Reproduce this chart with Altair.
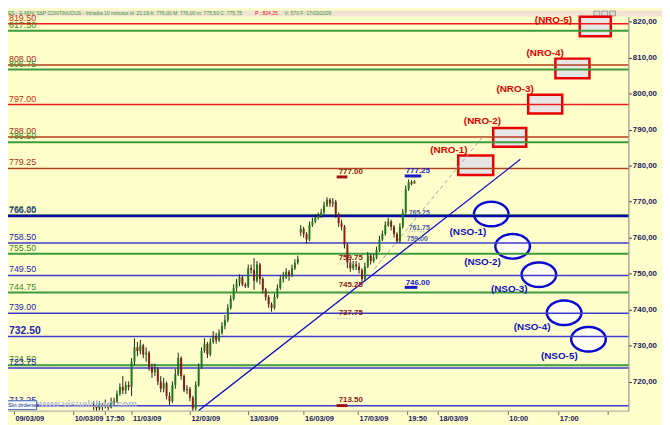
import math
import altair as alt
import pandas as pd

FONT = "Liberation Sans"
BG = "#ffffcc"

# ---------------- x axis (chart "days": 0 = 09/03/09 session start) ----------------
TICK_POS = [0.0, 1.017, 1.55, 2.017, 3.017, 4.017, 4.967, 5.9, 6.733, 7.267, 8.467, 9.333, 10.183]
TICK_LABELS = ["09/03/09", "10/03/09", "17:50", "11/03/09", "12/03/09", "13/03/09",
               "16/03/09", "17/03/09", "19:50", "18/03/09", "10:00", "17:00", ""]
Y_TICKS = [720, 730, 740, 750, 760, 770, 780, 790, 800, 810, 820]

# ---------------- 10-minute candles ----------------
BAR_START = 1.367
BAR_STEP = 0.05
OPENS = [713.5, 713.0, 712.5, 713.5, 713.0, 713.5, 712.8, 714.0, 714.5, 716.5,
         718.5, 717.5, 719.0, 718.5, 725.5, 729.5, 728.5, 730.0, 727.5, 728.0,
         724.0, 722.5, 723.5, 720.0, 718.0, 719.5, 716.0, 714.5, 719.0, 722.0,
         726.5, 721.5, 717.5, 718.0, 715.5, 712.5, 719.0, 724.0, 728.5, 730.5,
         727.5, 731.0, 732.5, 731.5, 733.5, 735.5, 737.0, 740.5, 743.0, 746.0,
         747.5, 749.0, 747.0, 746.5, 751.5, 751.0, 748.0, 752.5, 748.5, 745.5,
         743.5, 741.5, 740.5, 743.5, 746.0, 748.5, 749.0, 750.5, 749.5, 751.5,
         753.0, 761.5, 762.5, 761.0, 759.5, 763.5, 764.5, 765.5, 766.0, 767.0,
         769.0, 770.5, 769.5, 770.0, 766.5, 764.0, 763.0, 758.0, 753.0, 751.5,
         752.5, 752.0, 751.0, 748.5, 752.0, 755.0, 753.5, 754.5, 756.5, 759.5,
         761.0, 763.5, 764.5, 763.0, 761.0, 759.0, 763.0, 767.0, 773.5, 775.5,
         775.0]
HIGHS = [714.5, 714.0, 714.5, 714.0, 715.0, 714.0, 715.5, 715.5, 717.5, 719.5,
         721.5, 720.0, 720.0, 726.5, 732.0, 731.0, 731.5, 730.5, 729.5, 728.5,
         725.0, 725.0, 724.0, 721.5, 721.0, 720.0, 717.0, 720.0, 723.5, 728.0,
         727.0, 722.0, 719.0, 718.5, 716.0, 720.0, 725.0, 729.5, 732.0, 731.0,
         732.0, 734.0, 733.5, 734.5, 736.5, 738.5, 741.5, 744.0, 747.0, 748.5,
         749.8, 749.5, 747.5, 752.5, 752.5, 754.3, 753.5, 753.0, 749.0, 746.0,
         744.0, 742.0, 744.5, 747.0, 749.5, 750.5, 751.5, 751.0, 752.5, 754.0,
         755.0, 763.5, 763.0, 761.5, 764.5, 765.5, 766.5, 767.0, 768.0, 770.0,
         771.2, 771.0, 771.0, 770.5, 767.0, 765.0, 763.5, 758.5, 754.0, 753.5,
         753.5, 753.0, 751.5, 753.0, 756.0, 755.5, 755.5, 757.5, 760.5, 762.0,
         764.5, 765.5, 765.0, 763.5, 761.5, 764.0, 768.0, 774.5, 776.2, 776.0,
         776.0]
LOWS = [712.0, 711.5, 712.0, 712.0, 712.5, 712.0, 712.5, 713.5, 714.0, 716.0,
        716.5, 716.5, 717.5, 716.0, 724.5, 727.0, 727.5, 726.5, 725.5, 723.0,
        721.0, 721.5, 719.0, 717.0, 717.0, 715.0, 713.5, 714.0, 718.0, 721.5,
        720.5, 717.0, 716.5, 714.5, 711.0, 712.0, 718.5, 723.5, 728.0, 726.5,
        727.0, 730.5, 730.5, 731.0, 733.0, 734.5, 736.5, 740.0, 742.5, 745.0,
        746.5, 746.5, 746.0, 746.0, 750.0, 745.5, 747.5, 747.0, 744.5, 742.5,
        740.5, 739.4, 740.0, 743.0, 745.5, 747.5, 748.5, 748.0, 749.0, 751.0,
        752.5, 760.5, 760.0, 758.4, 759.0, 763.0, 764.0, 765.0, 765.5, 766.5,
        768.5, 768.5, 768.5, 765.5, 763.0, 762.0, 757.0, 751.5, 750.5, 751.0,
        751.0, 750.0, 747.5, 748.0, 751.5, 752.5, 753.0, 754.0, 756.0, 759.0,
        760.5, 763.0, 762.0, 760.0, 758.5, 758.5, 762.5, 766.5, 773.0, 774.5,
        775.5]
CLOSES = [713.0, 712.5, 713.5, 713.0, 713.5, 712.8, 714.0, 714.5, 716.5, 718.5,
          717.5, 719.0, 718.5, 725.5, 729.5, 728.5, 730.0, 727.5, 728.0, 724.0,
          722.5, 723.5, 720.0, 718.0, 719.5, 716.0, 714.5, 719.0, 722.0, 726.5,
          721.5, 717.5, 718.0, 715.5, 712.5, 719.0, 724.0, 728.5, 730.5, 727.5,
          731.0, 732.5, 731.5, 733.5, 735.5, 737.0, 740.5, 743.0, 746.0, 747.5,
          749.0, 747.0, 746.5, 751.5, 751.0, 748.0, 752.5, 748.5, 745.5, 743.5,
          741.5, 740.5, 743.5, 746.0, 748.5, 749.0, 750.5, 749.5, 751.5, 753.0,
          754.0, 762.5, 761.0, 759.5, 763.5, 764.5, 765.5, 766.0, 767.0, 769.0,
          770.5, 769.5, 770.0, 766.5, 764.0, 763.0, 758.0, 753.0, 751.5, 752.5,
          752.0, 751.0, 748.5, 752.0, 755.0, 753.5, 754.5, 756.5, 759.5, 761.0,
          763.5, 764.5, 763.0, 761.0, 759.0, 763.0, 767.0, 773.5, 775.5, 775.0,
          775.75]

# ---------------- horizontal price levels ----------------
LEVEL_PRICES = [819.50, 817.50, 808.00, 806.75, 797.00, 788.00, 786.50, 779.25,
                766.25, 766.00, 758.50, 755.50, 749.50, 744.75, 739.00, 732.50,
                724.50, 723.75, 713.25]
LEVEL_KINDS = ["red", "green", "brown", "green", "red", "brown", "green", "brown",
               "green", "navy", "blue", "green", "blue", "green", "blue", "blue",
               "green", "blue", "blue"]
BIG_LABEL = 732.50
KIND_LINE = {"red": "#ec1c1c", "brown": "#b0401e", "green": "#3c9c3c", "blue": "#3c3ccc", "navy": "#0a0aa8"}
KIND_TEXT = {"red": "#d42a0a", "brown": "#a83018", "green": "#3c8a1e", "blue": "#2424b0", "navy": "#1414a0"}
KIND_WIDTH = {"red": 1.5, "brown": 1.5, "green": 2.0, "blue": 1.5, "navy": 2.5}

# ---------------- drawn objects ----------------
TREND_LINE = {"x": 3.167, "y": 711.9, "x2": 8.683, "y2": 781.77}
DASH_LINE = {"x": 6.183, "y": 751.33, "x2": 8.05, "y2": 788.29}

NRO_LABELS = ["(NRO-1)", "(NRO-2)", "(NRO-3)", "(NRO-4)", "(NRO-5)"]
NRO_X1 = [7.617, 8.217, 8.817, 9.283, 9.70]
NRO_X2 = [8.217, 8.783, 9.400, 9.867, 10.233]
NRO_TOP = [782.85, 790.46, 799.70, 809.77, 821.40]
NRO_BOTTOM = [777.42, 785.30, 794.54, 804.33, 815.97]
NRO_LABEL_X = [7.458, 8.033, 8.592, 9.108, 9.25]
NRO_LABEL_Y = [784.48, 792.36, 801.36, 811.39, 820.60]

NSO_LABELS = ["(NSO-1)", "(NSO-2)", "(NSO-3)", "(NSO-4)", "(NSO-5)"]
NSO_X = [8.183, 8.550, 9.000, 9.433, 9.850]
NSO_Y = [766.55, 757.58, 749.70, 739.10, 731.75]
NSO_LABEL_X = [7.783, 8.033, 8.492, 8.883, 9.350]
NSO_LABEL_Y = [761.66, 753.23, 745.63, 735.03, 727.15]

ANN_LABELS = ["777.00", "777.25", "765.25", "761.75", "759.00", "759.75", "745.25", "737.75", "713.50", "746.00"]
ANN_X = [5.567, 6.717, 6.767, 6.767, 6.733, 5.567, 5.567, 5.567, 5.567, 6.717]
ANN_Y = [778.23, 778.50, 766.82, 762.74, 759.48, 754.32, 746.71, 739.10, 714.95, 747.25]
ANN_COLOR = ["#8c1a10", "#2020c8", "#5060a0", "#5060a0", "#5060a0", "#8c1a10", "#8c1a10", "#8c1a10", "#8c1a10", "#2020c8"]
ANN_SIZE = [8, 8, 7, 7, 7, 8, 8, 8, 8, 8]

UNDER_X1 = [5.533, 5.533, 6.700, 6.700]
UNDER_X2 = [5.717, 5.717, 6.983, 6.917]
UNDER_Y = [776.88, 713.30, 777.15, 746.17]
UNDER_COLOR = ["#a01010", "#a01010", "#1818c8", "#1818c8"]

DOT_X1 = [5.55, 5.55, 5.55, 6.767, 6.767, 6.767]
DOT_X2 = [5.80, 5.80, 5.80, 7.050, 7.050, 7.050]
DOT_Y = [752.70, 745.10, 737.47, 765.46, 761.66, 758.40]

HEADER_MAIN = "ES - E-MINI S&P CONTINUOUS - Intradía 10 minutos H: 21:19 A: 776,00 M: 776,00 m: 775,50 C: 775,75"
HEADER_RED = "P : 824,25"
HEADER_END = "V: 570 F: 17/03/2009"

# ---------------- scales / axes ----------------
XSCALE = alt.Scale(domain=[-1 / 60, 10.45], nice=False, zero=False)
YSCALE = alt.Scale(domain=[711.9, 821.5], nice=False, zero=False)

label_js = "[" + ",".join("'%s'" % s for s in TICK_LABELS) + "][indexof([" + \
    ",".join(str(v) for v in TICK_POS) + "], datum.value)]"

XAXIS = alt.Axis(orient="bottom", values=TICK_POS, labelExpr=label_js, title=None, grid=False,
                 labelAlign="left", labelBaseline="top", labelPadding=0, labelOffset=1,
                 tickSize=4, tickColor="#707070", domainColor="#a0a0a0",
                 labelColor="#1a1a60", labelFontSize=7.5, labelFontWeight="bold", labelFont=FONT,
                 labelFlush=False, labelOverlap=False, labelBound=False)
YAXIS = alt.Axis(orient="right", values=Y_TICKS,
                 labelExpr="replace(format(datum.value, '.2f'), '.', ',')",
                 title=None, grid=False, tickSize=3, tickColor="#303050", domainColor="#808080",
                 labelColor="#1a1a60", labelFontSize=8, labelFontWeight="bold", labelFont=FONT,
                 labelPadding=1, labelFlush=False, labelOverlap=False)


def X(f):
    return alt.X(f"{f}:Q", scale=XSCALE, axis=XAXIS)


def Y(f):
    return alt.Y(f"{f}:Q", scale=YSCALE, axis=YAXIS)


# ---------------- data frames ----------------
candles = pd.DataFrame({
    "x": [BAR_START + i * BAR_STEP for i in range(len(CLOSES))],
    "open": OPENS, "high": HIGHS, "low": LOWS, "close": CLOSES,
})
candles["color"] = ["#1e7a1e" if c >= o else "#8a1c1c" for o, c in zip(OPENS, CLOSES)]

levels = pd.DataFrame({
    "price": LEVEL_PRICES,
    "lc": [KIND_LINE[k] for k in LEVEL_KINDS],
    "tc": [KIND_TEXT[k] for k in LEVEL_KINDS],
    "w": [KIND_WIDTH[k] for k in LEVEL_KINDS],
    "label": ["%.2f" % p for p in LEVEL_PRICES],
})
levels_small = levels[levels["price"] != BIG_LABEL]
levels_big = levels[levels["price"] == BIG_LABEL]

lines_df = pd.DataFrame([TREND_LINE])
dash_df = pd.DataFrame([DASH_LINE])

nro = pd.DataFrame({"x": NRO_X1, "x2": NRO_X2, "y": NRO_TOP, "y2": NRO_BOTTOM})
nro_lab = pd.DataFrame({"x": NRO_LABEL_X, "y": NRO_LABEL_Y, "label": NRO_LABELS})
nso = pd.DataFrame({"x": NSO_X, "y": NSO_Y})
nso_lab = pd.DataFrame({"x": NSO_LABEL_X, "y": NSO_LABEL_Y, "label": NSO_LABELS})
ann = pd.DataFrame({"x": ANN_X, "y": ANN_Y, "label": ANN_LABELS, "c": ANN_COLOR, "s": ANN_SIZE})
under = pd.DataFrame({"x": UNDER_X1, "x2": UNDER_X2, "y": UNDER_Y, "c": UNDER_COLOR})
dots = pd.DataFrame({"x": DOT_X1, "x2": DOT_X2, "y": DOT_Y})
one = pd.DataFrame({"a": [0]})

# ellipse outline as a custom symbol shape (unit box)
pts = []
for k in range(60):
    t = 2 * math.pi * k / 60
    pts.append("%.3f %.3f" % (math.cos(t), 0.71 * math.sin(t)))
ELLIPSE = "M " + " L ".join(pts) + " Z"

# ---------------- layers ----------------
header_band = alt.Chart(one).mark_rect(color="#f2e2d2").encode(
    x=alt.value(-8), x2=alt.value(662), y=alt.value(-6), y2=alt.value(0))
buttons = [
    alt.Chart(one).mark_rect(fill="#d8d8d8", stroke="#707070", strokeWidth=0.6).encode(
        x=alt.value(bx), x2=alt.value(bx + 6), y=alt.value(-5.5), y2=alt.value(-0.5))
    for bx in (593, 601, 609)
]
header_main = alt.Chart(one).mark_text(align="left", baseline="middle", font=FONT, fontSize=5.1,
                                       color="#2f9a2f").encode(
    x=alt.value(0), y=alt.value(-3), text=alt.value(HEADER_MAIN))
header_red = alt.Chart(one).mark_text(align="left", baseline="middle", font=FONT, fontSize=5.1,
                                      color="#e02020").encode(
    x=alt.value(250), y=alt.value(-3), text=alt.value(HEADER_RED))
header_end = alt.Chart(one).mark_text(align="left", baseline="middle", font=FONT, fontSize=5.1,
                                      color="#2f9a2f").encode(
    x=alt.value(280), y=alt.value(-3), text=alt.value(HEADER_END))

rects = alt.Chart(nro).mark_rect(fill="#e6e6e6", stroke="#e80000", strokeWidth=2.5).encode(
    x=X("x"), x2="x2", y=Y("y"), y2="y2")
ellipses = alt.Chart(nso).mark_point(shape=ELLIPSE, size=1225, filled=True, fill="#fffcf0",
                                     fillOpacity=1, opacity=1, stroke="#0a0ad2",
                                     strokeWidth=2.5).encode(x=X("x"), y=Y("y"))

level_rules = alt.Chart(levels).mark_rule().encode(
    y=Y("price"), color=alt.Color("lc:N", scale=None),
    strokeWidth=alt.StrokeWidth("w:Q", scale=None))
level_text = alt.Chart(levels_small).mark_text(align="left", baseline="bottom", dy=-1, font=FONT,
                                               fontSize=9).encode(
    x=alt.value(1), y=Y("price"), text="label:N", color=alt.Color("tc:N", scale=None))
level_text_big = alt.Chart(levels_big).mark_text(align="left", baseline="bottom", dy=-1, font=FONT,
                                                 fontSize=10.5, fontWeight="bold").encode(
    x=alt.value(1), y=Y("price"), text="label:N", color=alt.Color("tc:N", scale=None))

trend = alt.Chart(lines_df).mark_rule(color="#1010c8", strokeWidth=1.3, clip=True).encode(
    x=X("x"), y=Y("y"), x2="x2", y2="y2")
dashed = alt.Chart(dash_df).mark_rule(color="#a0a0a0", strokeWidth=1, strokeDash=[4, 3]).encode(
    x=X("x"), y=Y("y"), x2="x2", y2="y2")

wicks = alt.Chart(candles).mark_rule(color="#202020", strokeWidth=1, clip=True).encode(
    x=X("x"), y=Y("low"), y2="high")
bodies = alt.Chart(candles).mark_bar(size=2, clip=True).encode(
    x=X("x"), y=Y("open"), y2="close", color=alt.Color("color:N", scale=None))

nro_text = alt.Chart(nro_lab).mark_text(font=FONT, fontSize=10, fontWeight="bold",
                                        color="#e00000").encode(x=X("x"), y=Y("y"), text="label:N")
nso_text = alt.Chart(nso_lab).mark_text(font=FONT, fontSize=10, fontWeight="bold",
                                        color="#1010c0").encode(x=X("x"), y=Y("y"), text="label:N")

ann_text = alt.Chart(ann).mark_text(align="left", baseline="middle", font=FONT,
                                    fontWeight="bold").encode(
    x=X("x"), y=Y("y"), text="label:N", color=alt.Color("c:N", scale=None),
    size=alt.Size("s:Q", scale=None))
under_rules = alt.Chart(under).mark_rule(strokeWidth=3).encode(
    x=X("x"), x2="x2", y=Y("y"), color=alt.Color("c:N", scale=None))
dot_rules = alt.Chart(dots).mark_rule(strokeWidth=1, color="#a0a0a0", strokeDash=[1, 2]).encode(
    x=X("x"), x2="x2", y=Y("y"))

watermark = alt.Chart(one).mark_text(align="left", baseline="middle", font=FONT, fontSize=10,
                                     fontWeight="bold", color="#b4bcd6").encode(
    x=alt.value(29), y=alt.value(392), text=alt.value("www.visualchart.com"))
sin_box = alt.Chart(one).mark_rect(fill="#f4f8ff", stroke="#4060b0", strokeWidth=1).encode(
    x=alt.value(-2), x2=alt.value(29), y=alt.value(389), y2=alt.value(398))
sin_text = alt.Chart(one).mark_text(align="left", baseline="middle", font=FONT, fontSize=6,
                                    color="#203080").encode(
    x=alt.value(0), y=alt.value(393.5), text=alt.value("Sin órdenes"))

chart = alt.layer(
    header_band, *buttons, header_main, header_red, header_end,
    rects, ellipses, level_rules, level_text, level_text_big,
    trend, dashed, wicks, bodies,
    nro_text, nso_text, ann_text, under_rules, dot_rules,
    watermark, sin_box, sin_text,
).properties(
    width=628, height=399,
    autosize=alt.AutoSizeParams(type="none"),
    padding={"left": 0, "top": 6, "right": 34, "bottom": 12},
    background=BG,
).configure_view(stroke=None, fill=BG)

chart.save("out.html", embed_options={"renderer": "svg", "actions": False})
